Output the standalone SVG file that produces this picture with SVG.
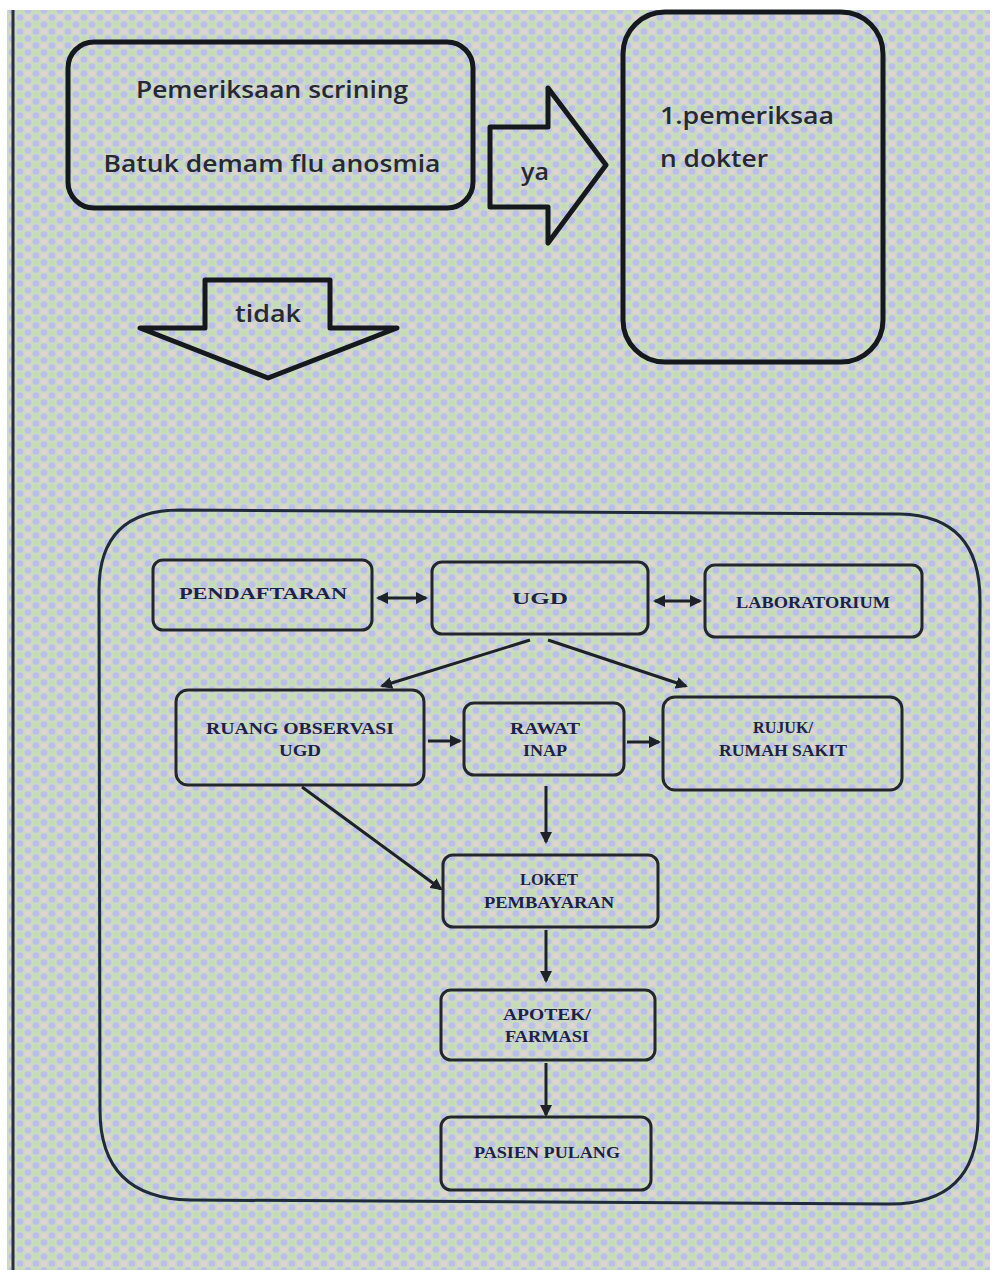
<svg xmlns="http://www.w3.org/2000/svg" width="993" height="1270" viewBox="0 0 993 1270">
<defs>
<pattern id="moire" width="16" height="14" patternUnits="userSpaceOnUse">
<rect width="16" height="14" fill="#cbdac3"/>
<ellipse cx="4" cy="3.5" rx="3.4" ry="3.2" fill="#bcbeea"/>
<ellipse cx="12" cy="10.5" rx="3.4" ry="3.2" fill="#bcbeea"/>
<ellipse cx="12" cy="3.5" rx="3" ry="2.6" fill="#e4d2d2"/>
<ellipse cx="4" cy="10.5" rx="3" ry="2.6" fill="#c4deb0"/>
</pattern>
<marker id="arr" markerWidth="12" markerHeight="12" refX="10" refY="6" orient="auto" markerUnits="userSpaceOnUse">
<path d="M0,0 L12,6 L0,12 Z" fill="#1e2228"/>
</marker>
<marker id="arrS" markerWidth="12" markerHeight="12" refX="2" refY="6" orient="auto" markerUnits="userSpaceOnUse">
<path d="M12,0 L0,6 L12,12 Z" fill="#1e2228"/>
</marker>
</defs>
<style>
.top { fill: none; stroke: #15181c; stroke-width: 5; stroke-linejoin: round; }
.node { fill: none; stroke: #23272c; stroke-width: 3; }
.cal { font-family: "Open Sans", "Noto Sans", sans-serif; font-weight: 600; font-size: 24px; fill: #262932; }
.lbl { font-family: "Liberation Serif", serif; font-weight: bold; font-size: 16px; fill: #1c2244; text-anchor: middle; }
.con { fill: none; stroke: #1e2228; stroke-width: 3; }
</style>
<rect width="993" height="1270" fill="#ffffff"/>
<rect x="7" y="10" width="983" height="1260" fill="url(#moire)"/>
<line x1="13" y1="10" x2="13" y2="1270" stroke="#2a2f3a" stroke-width="3"/>

<g id="screening">
<rect class="top" x="68" y="42" width="405" height="166" rx="26"/>
<text class="cal" x="272" y="98" text-anchor="middle" textLength="272" lengthAdjust="spacingAndGlyphs">Pemeriksaan scrining</text>
<text class="cal" x="272" y="172" text-anchor="middle" textLength="337" lengthAdjust="spacingAndGlyphs">Batuk demam flu anosmia</text>
</g>

<g id="arrow-ya">
<path class="top" d="M490,127 L548,127 L548,88 L606,165 L548,243 L548,207 L490,207 Z"/>
<text class="cal" x="535" y="180" text-anchor="middle" textLength="28" lengthAdjust="spacingAndGlyphs">ya</text>
</g>

<g id="dokter">
<rect class="top" x="623" y="12" width="260" height="350" rx="42"/>
<text class="cal" x="660" y="124" textLength="174" lengthAdjust="spacingAndGlyphs">1.pemeriksaa</text>
<text class="cal" x="660" y="167" textLength="108" lengthAdjust="spacingAndGlyphs">n dokter</text>
</g>

<g id="arrow-tidak">
<path class="top" d="M205,280 L330,280 L330,328 L397,328 L268,378 L140,328 L205,328 Z"/>
<text class="cal" x="268" y="322" text-anchor="middle" textLength="66" lengthAdjust="spacingAndGlyphs">tidak</text>
</g>

<g id="container">
<path fill="none" stroke="#1f2a3a" stroke-width="3" d="M180,510 L900,514 Q980,516 980,600 L978,1120 Q976,1204 890,1204 L190,1200 Q100,1198 100,1110 L99,590 Q99,510 180,510 Z"/>
</g>

<g id="pendaftaran">
<rect class="node" x="153" y="560" width="219" height="70" rx="10"/>
<text class="lbl" x="263" y="599" textLength="168" lengthAdjust="spacingAndGlyphs">PENDAFTARAN</text>
</g>
<g id="ugd">
<rect class="node" x="432" y="562" width="216" height="72" rx="10"/>
<text class="lbl" x="540" y="604" font-size="20" textLength="56" lengthAdjust="spacingAndGlyphs">UGD</text>
</g>
<g id="laboratorium">
<rect class="node" x="705" y="565" width="217" height="72" rx="10"/>
<text class="lbl" x="813" y="608" font-size="15" textLength="154" lengthAdjust="spacingAndGlyphs">LABORATORIUM</text>
</g>
<g id="observasi">
<rect class="node" x="176" y="690" width="248" height="95" rx="12"/>
<text class="lbl" x="300" y="734" textLength="188" lengthAdjust="spacingAndGlyphs">RUANG OBSERVASI</text>
<text class="lbl" x="300" y="756" textLength="42" lengthAdjust="spacingAndGlyphs">UGD</text>
</g>
<g id="rawat-inap">
<rect class="node" x="464" y="703" width="160" height="72" rx="10"/>
<text class="lbl" x="545" y="734" font-size="15" textLength="70" lengthAdjust="spacingAndGlyphs">RAWAT</text>
<text class="lbl" x="545" y="756" font-size="15" textLength="44" lengthAdjust="spacingAndGlyphs">INAP</text>
</g>
<g id="rujuk">
<rect class="node" x="663" y="697" width="239" height="93" rx="12"/>
<text class="lbl" x="783" y="733" font-size="15" textLength="60" lengthAdjust="spacingAndGlyphs">RUJUK/</text>
<text class="lbl" x="783" y="756" font-size="15" textLength="128" lengthAdjust="spacingAndGlyphs">RUMAH SAKIT</text>
</g>
<g id="loket">
<rect class="node" x="443" y="855" width="215" height="72" rx="10"/>
<text class="lbl" x="549" y="885" font-size="14" textLength="58" lengthAdjust="spacingAndGlyphs">LOKET</text>
<text class="lbl" x="549" y="908" font-size="14" textLength="130" lengthAdjust="spacingAndGlyphs">PEMBAYARAN</text>
</g>
<g id="apotek">
<rect class="node" x="441" y="990" width="214" height="70" rx="10"/>
<text class="lbl" x="547" y="1020" font-size="14" textLength="88" lengthAdjust="spacingAndGlyphs">APOTEK/</text>
<text class="lbl" x="547" y="1042" font-size="14" textLength="84" lengthAdjust="spacingAndGlyphs">FARMASI</text>
</g>
<g id="pasien-pulang">
<rect class="node" x="441" y="1117" width="210" height="73" rx="10"/>
<text class="lbl" x="547" y="1158" font-size="14" textLength="146" lengthAdjust="spacingAndGlyphs">PASIEN PULANG</text>
</g>

<g id="connectors">
<line class="con" x1="378" y1="598" x2="426" y2="598" marker-start="url(#arrS)" marker-end="url(#arr)"/>
<line class="con" x1="655" y1="601" x2="700" y2="601" marker-start="url(#arrS)" marker-end="url(#arr)"/>
<line class="con" x1="530" y1="640" x2="382" y2="686" marker-end="url(#arr)"/>
<line class="con" x1="548" y1="640" x2="686" y2="686" marker-end="url(#arr)"/>
<line class="con" x1="428" y1="741" x2="460" y2="741" marker-end="url(#arr)"/>
<line class="con" x1="627" y1="742" x2="659" y2="742" marker-end="url(#arr)"/>
<line class="con" x1="546" y1="786" x2="546" y2="842" marker-end="url(#arr)"/>
<line class="con" x1="302" y1="787" x2="441" y2="889" marker-end="url(#arr)"/>
<line class="con" x1="546" y1="930" x2="546" y2="981" marker-end="url(#arr)"/>
<line class="con" x1="546" y1="1063" x2="546" y2="1115" marker-end="url(#arr)"/>
</g>
</svg>
